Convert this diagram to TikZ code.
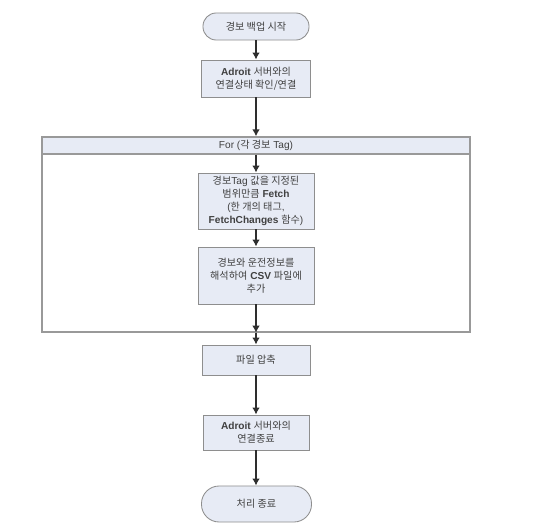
\documentclass[tikz,border=0pt]{standalone}
\usepackage{fontspec}
\setmainfont{Liberation Sans}
\newfontfamily\krfont{Noto Sans CJK KR}
\newcommand{\ko}[1]{{\krfont #1}}
\usetikzlibrary{shapes,arrows.meta,positioning,calc}
\tikzset{>=latex}
\definecolor{boxfill}{HTML}{E7EBF5}
\definecolor{boxline}{HTML}{8E8E8E}
\definecolor{arrowcol}{HTML}{2E2E2E}

\begin{document}
\begin{tikzpicture}[x=0.025cm,y=-0.025cm,
    every node/.style={font=\fontsize{7.2}{9.3}\selectfont,text=black!75,align=center,inner sep=0pt},
    proc/.style={draw=boxline,fill=boxfill,line width=0.6pt},
    term/.style={proc,rounded corners=0.33cm},
    flow/.style={-{Latex[length=5pt,width=5.5pt]},draw=arrowcol,line width=1.4pt}]
  \useasboundingbox (0,0) rectangle (533,532);
  % loop frame and header
  \node [draw=boxline!90,line width=0.9pt,minimum width=10.7cm,minimum height=4.875cm] (loop) at (256,234.5) {};
  \node [draw=boxline!90,fill=boxfill,line width=0.9pt,minimum width=10.7cm,minimum height=0.425cm] (hdr) at (256,145.5) {For (\ko{각 경보} Tag)};
  % steps
  \node [term,minimum width=2.65cm,minimum height=0.675cm] (start) at (256,26.5) {\ko{경보 백업 시작}};
  \node [proc,minimum width=2.725cm,minimum height=0.925cm] (conn) at (256,78.5) {\textbf{Adroit} \ko{서버와의}\\\ko{연결상태 확인/연결}};
  \node [proc,minimum width=2.9cm,minimum height=1.4cm] (fetch) at (256,201) {\ko{경보}Tag \ko{값을 지정된}\\\ko{범위만큼} \textbf{Fetch}\\(\ko{한 개의 태그},\\\textbf{FetchChanges} \ko{함수})};
  \node [proc,minimum width=2.9cm,minimum height=1.425cm] (parse) at (256,275.5) {\ko{경보와 운전정보를}\\\ko{해석하여} \textbf{CSV} \ko{파일에}\\\ko{추가}};
  \node [proc,minimum width=2.7cm,minimum height=0.75cm] (zip) at (256,360) {\ko{파일 압축}};
  \node [proc,minimum width=2.65cm,minimum height=0.875cm] (close) at (256,432.5) {\textbf{Adroit} \ko{서버와의}\\\ko{연결종료}};
  \node [term,rounded corners=0.44cm,minimum width=2.75cm,minimum height=0.9cm] (stop) at (256.5,504) {\ko{처리 종료}};
  % connectors
  \draw [flow] (start) -- (conn);
  \draw [flow] (conn) -- (conn |- loop.north);
  \draw [flow] (hdr.south -| fetch) -- (fetch);
  \draw [flow] (fetch) -- (parse);
  \draw [flow] (parse) -- (parse |- loop.south);
  \draw [flow] (zip |- loop.south) -- (zip);
  \draw [flow] (zip) -- (close);
  \draw [flow] (close) -- (close |- stop.north);
\end{tikzpicture}
\end{document}
